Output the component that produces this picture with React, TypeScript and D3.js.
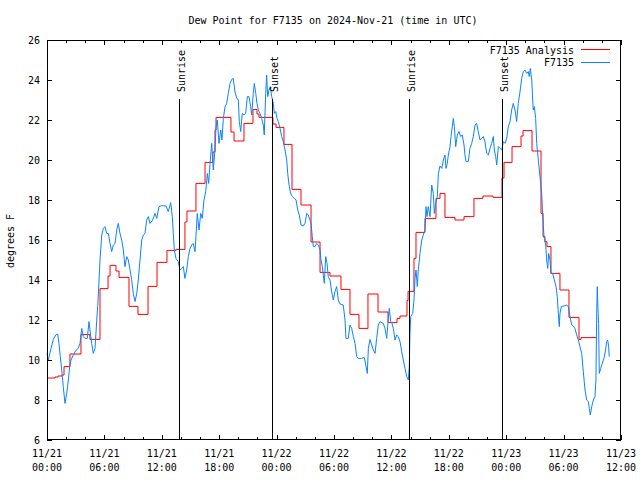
import React from "react";
import * as d3 from "d3";

// hours since 2024-11-21 00:00 UTC
const stationTimes = [0,0.14,0.42,0.66,0.91,1.12,1.25,1.39,1.54,1.70,1.88,2.06,2.23,2.37,2.51,2.75,3.0,3.27,3.45,3.63,3.79,3.97,4.21,4.39,4.49,4.67,4.84,5.02,5.20,5.30,5.44,5.54,5.72,5.89,6.06,6.24,6.41,6.59,6.76,6.93,7.11,7.29,7.45,7.63,7.81,7.98,8.15,8.33,8.50,8.68,8.85,9.02,9.20,9.38,9.54,9.72,9.90,10.07,10.24,10.42,10.59,10.77,11.05,11.29,11.47,11.71,11.99,12.44,12.68,12.93,13.10,13.20,13.31,13.48,13.72,13.90,14.08,14.25,14.42,14.60,14.77,14.95,15.13,15.29,15.47,15.57,15.71,15.89,16.07,16.23,16.41,16.59,16.76,16.90,17.04,17.22,17.38,17.56,17.67,17.80,17.98,18.16,18.29,18.43,18.61,18.78,18.95,19.13,19.31,19.47,19.65,19.83,20.0,20.10,20.25,20.41,20.59,20.77,20.94,21.11,21.29,21.40,21.56,21.67,21.82,21.95,22.09,22.26,22.44,22.61,22.71,22.86,22.96,23.07,23.21,23.34,23.49,23.66,23.76,23.91,24.04,24.18,24.36,24.53,24.70,24.88,25.06,25.16,25.30,25.47,25.64,25.85,26.03,26.21,26.37,26.55,26.79,26.97,27.15,27.31,27.49,27.60,27.73,27.84,28.01,28.19,28.36,28.54,28.64,28.78,28.88,28.99,29.13,29.27,29.40,29.58,29.76,29.93,30.10,30.28,30.45,30.63,30.97,31.15,31.25,31.49,31.67,31.85,32.02,32.20,32.37,32.54,32.90,33.17,33.35,33.48,33.59,33.76,33.94,34.11,34.29,34.46,34.63,34.81,35.15,35.33,35.51,35.68,35.78,35.93,36.06,36.20,36.38,36.55,36.72,36.90,37.08,37.24,37.42,37.60,37.77,37.87,37.94,38.02,38.23,38.36,38.47,38.57,38.71,38.81,38.99,39.17,39.33,39.51,39.62,39.72,39.86,40.04,40.21,40.38,40.49,40.63,40.80,40.91,41.08,41.26,41.43,41.60,41.71,41.84,41.95,42.13,42.23,42.37,42.47,42.58,42.72,42.89,43.07,43.24,43.41,43.59,43.69,43.80,44.04,44.21,44.39,44.56,44.74,44.91,45.08,45.26,45.44,45.61,45.78,45.96,46.13,46.31,46.48,46.65,46.76,46.90,47.01,47.18,47.35,47.53,47.70,47.88,48.05,48.22,48.40,48.57,48.74,48.92,49.09,49.26,49.44,49.62,49.79,49.96,50.14,50.31,50.41,50.52,50.67,50.77,50.83,50.94,51.08,51.19,51.36,51.53,51.71,51.82,51.95,52.13,52.23,52.34,52.44,52.58,52.68,52.86,53.03,53.21,53.34,53.45,53.55,53.62,53.76,54.04,54.32,54.49,54.67,54.85,55.01,55.19,55.37,55.54,55.71,55.89,56.06,56.24,56.41,56.58,56.69,56.79,56.94,57.11,57.28,57.38,57.46,57.52,57.59,57.66,57.73,57.88,58.04,58.22,58.39,58.50,58.61,58.71,58.77];
const stationValues = [10.33,10.0,10.58,11.03,11.25,11.3,10.83,10.17,9.5,8.67,7.83,8.33,9.0,9.67,10.0,10.25,10.47,10.58,10.83,11.58,11.17,11.08,11.08,11.92,11.5,10.83,10.33,10.58,12.0,12.67,14.0,15.0,16.25,16.58,16.67,16.33,16.33,15.83,15.42,15.75,15.83,16.5,16.83,16.33,16.0,15.5,14.67,15.17,15.0,14.5,14.0,13.33,12.92,13.33,14.0,15.0,16.0,16.25,16.33,17.0,17.17,16.83,17.0,17.33,17.08,17.67,17.72,17.7,17.42,17.87,17.17,16.33,15.5,15.08,14.92,14.5,14.58,14.67,14.08,14.5,15.17,15.58,15.75,15.83,15.42,16.17,17.33,16.5,17.33,17.08,18.0,18.42,19.33,18.83,19.83,20.83,19.5,20.5,21.67,22.0,20.83,21.5,21.0,22.08,22.67,22.83,23.33,23.83,24.03,24.08,23.4,23.1,23.0,21.92,21.42,22.33,22.25,22.33,23.17,23.17,22.67,22.25,23.33,23.83,23.33,22.83,22.5,22.33,22.08,21.75,21.25,23.33,24.25,23.17,23.5,23.67,23.17,22.83,22.33,22.42,22.08,21.92,21.58,21.17,20.92,20.5,20.0,19.33,18.75,18.33,18.17,18.08,18.0,17.5,17.25,16.75,16.7,16.83,17.33,17.25,17.0,16.83,16.17,15.67,15.67,15.83,15.75,15.5,15.0,14.67,14.25,13.83,15.17,14.83,14.17,14.0,13.4,13.0,13.42,13.67,13.0,12.8,12.75,12.0,11.08,11.08,11.75,11.58,11.17,10.83,10.17,10.08,10.08,10.13,9.67,9.33,10.58,11.03,10.75,10.5,10.33,11.08,11.75,11.92,11.83,11.58,11.08,12.08,12.58,11.92,11.83,11.58,11.0,11.25,11.17,10.92,10.42,10.0,9.58,9.17,9.0,9.67,11.33,12.17,12.33,13.0,14.08,14.5,13.67,14.5,15.33,16.0,16.25,16.5,17.67,17.17,17.67,17.17,18.75,18.33,17.33,17.83,18.17,19.33,19.7,19.58,20.0,20.25,19.58,19.83,20.25,20.67,21.17,21.67,22.08,21.67,20.67,21.25,21.42,21.17,21.25,20.75,20.25,19.92,19.92,20.58,20.83,21.17,21.75,21.83,21.42,21.0,21.08,21.17,20.92,20.33,20.25,20.58,20.83,21.17,20.5,20.17,19.75,20.67,20.58,20.5,20.92,20.83,21.08,21.67,21.92,22.5,22.83,22.5,21.92,22.83,23.4,24.08,24.42,24.5,24.33,24.42,24.17,24.58,24.0,23.0,22.5,22.67,22.08,20.83,20.0,19.17,18.33,17.17,16.17,15.75,15.0,14.58,15.33,15.0,14.33,14.33,14.0,13.67,13.17,12.33,11.67,12.33,12.67,12.7,12.75,12.67,12.17,11.75,11.7,11.58,11.25,11.0,10.67,10.33,9.42,8.5,8.0,7.92,7.58,7.25,7.67,8.0,8.17,9.0,12.33,13.67,12.58,11.83,9.33,9.58,9.83,10.08,10.5,10.92,11.0,10.67,10.17];

const analysisTimes = [0,0.84,1.15,1.57,1.78,2.40,3.55,4.49,5.54,6.38,6.59,7.21,7.53,8.57,9.51,10.56,11.50,12.54,13.48,14.42,14.63,15.57,16.52,17.35,17.56,17.67,19.23,19.55,20.59,21.53,21.95,22.16,23.62,23.94,24.77,25.61,26.55,27.60,28.54,29.58,30.73,31.67,32.61,33.55,34.60,35.65,36.59,36.90,37.63,37.74,38.36,38.57,39.51,40.66,41.08,41.60,42.65,43.59,44.63,45.57,46.62,47.56,47.77,48.61,49.55,49.76,50.70,51.64,51.85,52.05,52.26,52.68,53.62,54.56,55.61,55.82,57.49];
const analysisValues = [9.1,9.15,9.2,9.25,9.67,10.3,11.27,11.03,13.57,14.2,14.73,14.45,14.13,12.68,12.28,13.68,14.88,15.48,15.53,16.9,17.45,18.83,19.88,20.4,21.5,22.13,21.4,20.95,21.83,22.53,22.3,22.13,21.8,21.63,20.78,18.53,17.75,15.9,14.38,14.2,13.53,12.28,11.58,13.3,12.4,11.87,12.08,12.2,12.97,13.43,15.08,16.38,17.08,18.08,18.33,17.13,17.0,17.17,18.08,18.2,18.13,19.1,19.88,20.67,21.2,21.47,20.45,17.33,16.17,15.92,15.67,14.33,13.5,12.13,11.03,11.12,11.12];

const sunEventTimes = [13.83, 23.55, 37.87, 47.59];
const sunEventLabels = ["Sunrise", "Sunset", "Sunrise", "Sunset"];

const xTickHours = [0, 6, 12, 18, 24, 30, 36, 42, 48, 54, 60];
const xTickDates = ["11/21","11/21","11/21","11/21","11/22","11/22","11/22","11/22","11/23","11/23","11/23"];
const xTickTimes = ["00:00","06:00","12:00","18:00","00:00","06:00","12:00","18:00","00:00","06:00","12:00"];
const yTicks = [6, 8, 10, 12, 14, 16, 18, 20, 22, 24, 26];

const title = "Dew Point for F7135 on 2024-Nov-21 (time in UTC)";
const seriesNames = ["F7135 Analysis", "F7135"];

const W = 640, H = 480;
const L = 47, R = 621, T = 40, B = 440;
const RED = "#ff0000";
const BLUE = "#0a84ff";
const FONT = "'DejaVu Sans Mono', 'Liberation Mono', monospace";

export default function App() {
  const x = d3.scaleLinear().domain([0, 60]).range([L, R]);
  const y = d3.scaleLinear().domain([6, 26]).range([B, T]);

  const station = stationTimes.map((t, i) => [t, stationValues[i]] as [number, number]);
  const analysis = analysisTimes.map((t, i) => [t, analysisValues[i]] as [number, number]);

  const stepLine = d3.line<[number, number]>().x(d => x(d[0])).y(d => y(d[1])).curve(d3.curveStepAfter);
  const line = d3.line<[number, number]>().x(d => x(d[0])).y(d => y(d[1]));

  const minorHours = d3.range(0, 61, 2).filter(h => h % 6 !== 0);

  return (
    <svg width={W} height={H} style={{ position: "absolute", left: 0, top: 0, background: "#fff" }}
      fontFamily={FONT} fontSize={10}>
      <rect x={0} y={0} width={W} height={H} fill="#fff" />
      <text x={333} y={23.5} textAnchor="middle">{title}</text>

      {/* data */}
      <path d={stepLine(analysis) || ""} fill="none" stroke={RED} strokeWidth={1} />
      <path d={line(station) || ""} fill="none" stroke={BLUE} strokeWidth={1} />

      {/* sun events */}
      {sunEventTimes.map((t, i) => (
        <g key={"s" + i}>
          <line x1={Math.round(x(t)) + 0.5} x2={Math.round(x(t)) + 0.5} y1={99} y2={B} stroke="#000" strokeWidth={1} />
          <text transform={`translate(${Math.round(x(t)) + 5.5},92) rotate(-90)`} textAnchor="start">{sunEventLabels[i]}</text>
        </g>
      ))}

      {/* frame */}
      <rect x={L + 0.5} y={T + 0.5} width={R - L - 1} height={B - T - 1} fill="none" stroke="#000" strokeWidth={1} shapeRendering="crispEdges" />

      {/* x ticks */}
      <g shapeRendering="crispEdges" stroke="#000">
        {xTickHours.map(h => (
          <g key={"xt" + h}>
            <line x1={Math.round(x(h)) + 0.5} x2={Math.round(x(h)) + 0.5} y1={B} y2={B - 5} />
            <line x1={Math.round(x(h)) + 0.5} x2={Math.round(x(h)) + 0.5} y1={T} y2={T + 5} />
          </g>
        ))}
        {minorHours.map(h => (
          <g key={"xm" + h}>
            <line x1={Math.round(x(h)) + 0.5} x2={Math.round(x(h)) + 0.5} y1={B} y2={B - 3} />
            <line x1={Math.round(x(h)) + 0.5} x2={Math.round(x(h)) + 0.5} y1={T} y2={T + 3} />
          </g>
        ))}
        {yTicks.map(v => (
          <g key={"yt" + v}>
            <line x1={L} x2={L + 5} y1={Math.round(y(v)) + 0.5} y2={Math.round(y(v)) + 0.5} />
            <line x1={R} x2={R - 5} y1={Math.round(y(v)) + 0.5} y2={Math.round(y(v)) + 0.5} />
          </g>
        ))}
      </g>
      {xTickHours.map((h, i) => (
        <g key={"xl" + h}>
          <text x={x(h)} y={456.5} textAnchor="middle">{xTickDates[i]}</text>
          <text x={x(h)} y={470.5} textAnchor="middle">{xTickTimes[i]}</text>
        </g>
      ))}
      {yTicks.map(v => (
        <text key={"yl" + v} x={40} y={y(v) + 3.5} textAnchor="end">{v}</text>
      ))}
      <text transform="translate(14,241) rotate(-90)" textAnchor="middle">degrees F</text>

      {/* legend */}
      <text x={574} y={53.5} textAnchor="end">{seriesNames[0]}</text>
      <line x1={581} x2={610} y1={49.5} y2={49.5} stroke={RED} strokeWidth={1} />
      <text x={574} y={66} textAnchor="end">{seriesNames[1]}</text>
      <line x1={581} x2={610} y1={62.5} y2={62.5} stroke={BLUE} strokeWidth={1} />
    </svg>
  );
}
